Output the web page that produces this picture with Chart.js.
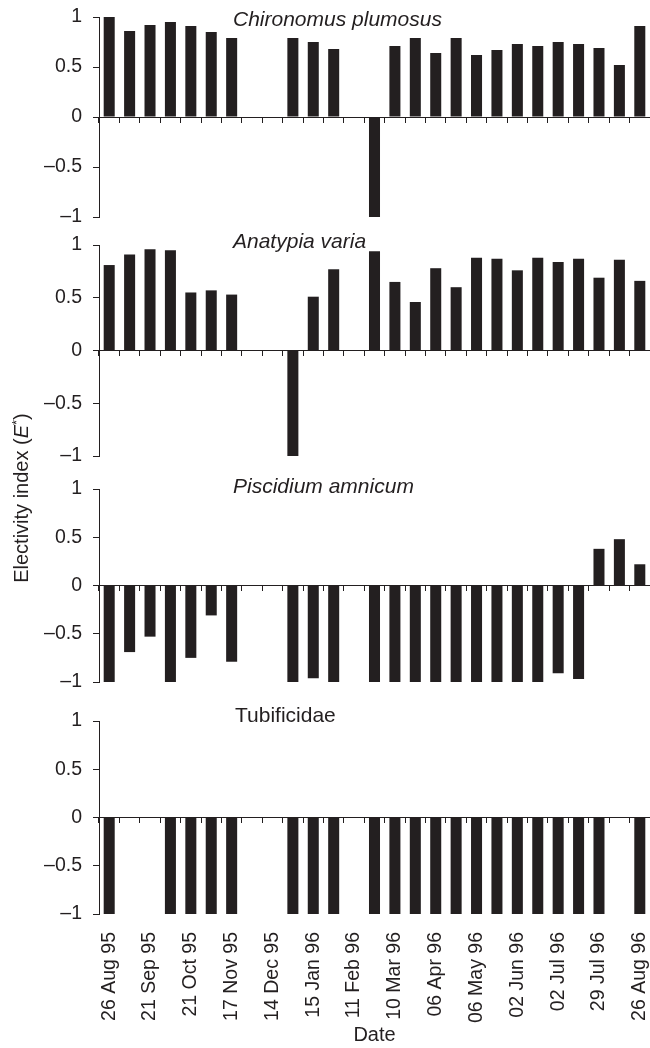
<!DOCTYPE html>
<html>
<head>
<meta charset="utf-8">
<title>Electivity index</title>
<script src="https://cdn.jsdelivr.net/npm/chart.js@4.4.1/dist/chart.umd.min.js"></script>
<style>
  body { margin: 0; background: #fff; }
  #wrap { position: relative; width: 650px; height: 1048px; overflow: hidden; font-family: 'Liberation Sans', Arial, sans-serif; color: #231f20; }
  #wrap canvas { position: absolute; left: 0; }
  #y-title { position: absolute; left: -129px; top: 486px; width: 300px; height: 24px; line-height: 24px; font-size: 20px; text-align: center; white-space: nowrap; transform: rotate(-90deg); }
  #y-title sup { font-size: 13px; line-height: 0; vertical-align: 7px; }
</style>
</head>
<body>
<div id="wrap">
  <canvas id="panel-1" width="650" height="224" style="top:5px"></canvas>
  <canvas id="panel-2" width="650" height="235" style="top:233px"></canvas>
  <canvas id="panel-3" width="650" height="217" style="top:477px"></canvas>
  <canvas id="panel-4" width="650" height="349" style="top:699px"></canvas>
  <div id="y-title">Electivity index (<i>E</i><sup>*</sup>)</div>
</div>
<script>
// sampling dates, only every other one is labelled on the axis
const dateLabels = ['26 Aug 95', '', '21 Sep 95', '', '21 Oct 95', '', '17 Nov 95', '', '14 Dec 95', '',
  '15 Jan 96', '', '11 Feb 96', '', '10 Mar 96', '', '06 Apr 96', '', '06 May 96', '', '02 Jun 96', '',
  '02 Jul 96', '', '29 Jul 96', '', '26 Aug 96'];

// electivity index E* per prey taxon (null = no sample)
const chironomus = [1.0, 0.86, 0.92, 0.95, 0.91, 0.85, 0.79, null, null, 0.79, 0.75, 0.68, null, -1.0,
  0.71, 0.79, 0.64, 0.79, 0.62, 0.67, 0.73, 0.71, 0.75, 0.73, 0.69, 0.52, 0.91];
const anatypia = [0.81, 0.91, 0.96, 0.95, 0.55, 0.57, 0.53, null, null, -1.0, 0.51, 0.77, null, 0.94,
  0.65, 0.46, 0.78, 0.60, 0.88, 0.87, 0.76, 0.88, 0.84, 0.87, 0.69, 0.86, 0.66];
const piscidium = [-1.0, -0.69, -0.53, -1.0, -0.75, -0.31, -0.79, null, null, -1.0, -0.96, -1.0, null, -1.0,
  -1.0, -1.0, -1.0, -1.0, -1.0, -1.0, -1.0, -1.0, -0.91, -0.97, 0.38, 0.48, 0.22];
const tubificidae = [-1.0, null, null, -1.0, -1.0, -1.0, -1.0, null, null, -1.0, -1.0, -1.0, null, -1.0,
  -1.0, -1.0, -1.0, -1.0, -1.0, -1.0, -1.0, -1.0, -1.0, -1.0, -1.0, null, -1.0];

const yTicks = [-1, -0.5, 0, 0.5, 1];

const INK = '#231f20';
const FONT = "'Liberation Sans', Arial, sans-serif";

// species name written inside the plot, level with the top of the y axis
const panelTitle = {
    id: 'panelTitle',
    afterDatasetsDraw(chart, args, opts) {
        const {ctx, chartArea, scales} = chart;
        ctx.save();
        ctx.font = (opts.italic ? 'italic ' : '') + '21px ' + FONT;
        ctx.fillStyle = INK;
        ctx.textBaseline = 'alphabetic';
        ctx.fillText(opts.text, chartArea.left + opts.dx, scales.y.getPixelForValue(1) + opts.dy);
        ctx.restore();
    }
};

function yScale() {
    return {
        min: -1,
        max: 1,
        // fixed axis width so all four panels line up; label overhang is covered by layout padding
        afterFit: scale => { scale.width = 99; scale.paddingTop = 0; scale.paddingBottom = 0; },
        afterBuildTicks: scale => { scale.ticks = yTicks.map(v => ({value: v})); },
        border: {color: INK, width: 1},
        grid: {drawOnChartArea: false, tickLength: 6, color: INK},
        ticks: {
            padding: 11,
            color: INK,
            font: {family: FONT, size: 19.5},
            callback: v => v < 0 ? '\u2013' + Math.abs(v) : String(v)
        }
    };
}

// the category axis drawn along E* = 0, ticks between samples
function zeroAxis() {
    return {
        type: 'category',
        position: {y: 0},
        offset: true,
        afterFit: scale => { scale.paddingLeft = 0; scale.paddingRight = 0; },
        border: {color: INK, width: 1},
        grid: {offset: true, drawOnChartArea: false, tickLength: 5, color: INK},
        ticks: {display: false}
    };
}

function dateAxis() {
    return {
        type: 'category',
        position: 'bottom',
        offset: true,
        afterFit: scale => { scale.height = 134; scale.paddingLeft = 0; scale.paddingRight = 0; },
        border: {display: false},
        grid: {display: false, drawTicks: false},
        ticks: {
            autoSkip: false,
            minRotation: 90,
            maxRotation: 90,
            padding: 18,
            color: INK,
            font: {family: FONT, size: 19.5}
        },
        title: {display: true, text: 'Date', color: INK, font: {family: FONT, size: 20}, padding: {top: 0, bottom: 1}}
    };
}

function makePanel(canvasId, values, title, withDates) {
    const scales = withDates
        ? {x: dateAxis(), x0: zeroAxis(), y: yScale()}
        : {x: zeroAxis(), y: yScale()};

    return new Chart(document.getElementById(canvasId), {
        type: 'bar',
        data: {
            labels: dateLabels,
            datasets: [{
                data: values,
                xAxisID: 'x',
                yAxisID: 'y',
                backgroundColor: INK,
                borderWidth: 0,
                barPercentage: 0.54,
                categoryPercentage: 1
            }]
        },
        options: {
            responsive: false,
            animation: false,
            events: [],
            layout: {padding: {top: withDates ? 22 : 12, bottom: withDates ? 0 : 12, left: 0, right: 0}},
            scales: scales,
            plugins: {
                legend: {display: false},
                tooltip: {enabled: false},
                panelTitle: title
            }
        },
        plugins: [panelTitle]
    });
}

makePanel('panel-1', chironomus, {text: 'Chironomus plumosus', italic: true, dx: 134, dy: 9.4}, false);
makePanel('panel-2', anatypia, {text: 'Anatypia varia', italic: true, dx: 134, dy: 3.3}, false);
makePanel('panel-3', piscidium, {text: 'Piscidium amnicum', italic: true, dx: 134, dy: 4.3}, false);
makePanel('panel-4', tubificidae, {text: 'Tubificidae', italic: false, dx: 136, dy: 0.7}, true);
</script>
</body>
</html>
